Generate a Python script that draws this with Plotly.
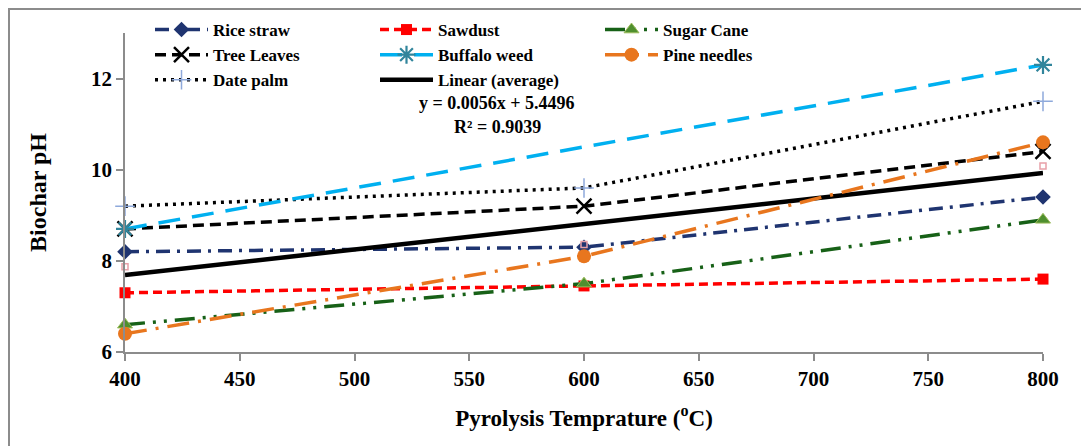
import plotly.graph_objects as go

temps = [400, 600, 800]
rice_straw = [8.2, 8.3, 9.4]
sawdust = [7.3, 7.45, 7.6]
sugar_cane = [6.6, 7.5, 8.9]
tree_leaves = [8.7, 9.2, 10.4]
buffalo_weed = [8.7, None, 12.3]
pine_needles = [6.4, 8.1, 10.6]
date_palm = [9.2, 9.6, 11.5]
average = [7.87, 8.36, 10.08]
trend_slope = 0.0056
trend_intercept = 5.4496
trend_x = [400, 800]
x_ticks = [400, 450, 500, 550, 600, 650, 700, 750, 800]
y_ticks = [6, 8, 10, 12]

FONT = "Liberation Serif"
fig = go.Figure()

def add(name, y, color, dash, symbol, msize, mcolor, legend, mline=None, width=3.5):
    fig.add_trace(go.Scatter(
        x=temps, y=y, name=name, mode="lines+markers", connectgaps=True, cliponaxis=False,
        line=dict(color=color, width=width, dash=dash),
        marker=dict(symbol=symbol, size=msize, color=mcolor,
                    line=mline or dict(width=0)),
        legend=legend))

add("Rice straw", rice_straw, "#1F3470", "14px,7px,3px,7px", "diamond", 12, "#1F3470", "legend")
add("Tree Leaves", tree_leaves, "#000000", "11px,6px", "x-thin-open", 15, "#000000", "legend",
    mline=dict(width=2.5, color="#000000"))
add("Date palm", date_palm, "#000000", "3px,5px", "cross-thin-open", 14, "#8EA9DB", "legend",
    mline=dict(width=1.5, color="#8EA9DB"))
add("Sawdust", sawdust, "#FF0000", "9px,5px", "square", 11, "#FF0000", "legend2")
add("Buffalo weed", buffalo_weed, "#00B0F0", "22px,12px", "asterisk-open", 15, "#31859C", "legend2",
    mline=dict(width=2.2, color="#31859C"))
fig.add_trace(go.Scatter(
    x=trend_x, y=[trend_slope * v + trend_intercept for v in trend_x],
    name="Linear (average)", mode="lines", line=dict(color="#000000", width=4.5),
    legend="legend2"))
add("Sugar Cane", sugar_cane, "#176117", "20px,8px,3px,8px,3px,8px", "triangle-up", 13, "#4F8F2F", "legend3",
    mline=dict(width=1, color="#9BBB59"))
add("Pine needles", pine_needles, "#E8761E", "22px,9px,3px,9px", "circle", 14, "#E8761E", "legend3")

fig.add_trace(go.Scatter(
    x=temps, y=average, mode="markers", showlegend=False, name="average", cliponaxis=False,
    marker=dict(symbol="square-open", size=6, color="#E8A0A8", line=dict(width=1.5))))

legend_common = dict(font=dict(family=FONT, size=17, color="#000000", weight="bold"),
                     bgcolor="rgba(0,0,0,0)", tracegroupgap=0, itemwidth=53,
                     yanchor="top", xanchor="left", orientation="v", traceorder="normal")

OFF = 8  # page body margin
W, H = 1089 - OFF, 446 - OFF
L, R, T, B = 125 - OFF, 46, 33 - OFF, 94
pw, ph = W - L - R, H - T - B

def px(xp):
    return (xp - OFF - L) / pw

def py(yp):
    return (H - B - (yp - OFF)) / ph

fig.update_layout(
    width=W, height=H, margin=dict(l=L, r=R, t=T, b=B, autoexpand=False),
    paper_bgcolor="white", plot_bgcolor="white",
    font=dict(family=FONT, size=17, color="#000000"),
    legend=dict(x=px(150), y=py(12), **legend_common),
    legend2=dict(x=px(375), y=py(12), **legend_common),
    legend3=dict(x=px(600), y=py(12), **legend_common),
    xaxis=dict(range=[400, 800], tickvals=x_ticks, showgrid=False, zeroline=False,
               automargin=False,
               showline=True, linecolor="#8C8C8C", linewidth=1.5, ticks="outside",
               tickcolor="#8C8C8C", ticklen=7, tickwidth=1.5,
               tickfont=dict(family=FONT, size=21, weight="bold"),
               title=dict(text="Pyrolysis Temprature (<sup>o</sup>C)",
                          font=dict(family=FONT, size=23, weight="bold"), standoff=20)),
    yaxis=dict(range=[6, 13], tickvals=y_ticks, showgrid=False, zeroline=False,
               automargin=False,
               showline=True, linecolor="#8C8C8C", linewidth=1.5, ticks="outside",
               tickcolor="#8C8C8C", ticklen=7, tickwidth=1.5,
               tickfont=dict(family=FONT, size=21, weight="bold"),
               title=dict(text="Biochar pH", font=dict(family=FONT, size=24, weight="bold"),
                          standoff=38)),
    annotations=[
        dict(text="y = 0.0056x + 5.4496", x=px(497), y=py(103), xref="paper", yref="paper",
             xanchor="center", yanchor="middle",
             showarrow=False, font=dict(family=FONT, size=18, weight="bold")),
        dict(text="R² = 0.9039", x=px(497), y=py(127), xref="paper", yref="paper",
             xanchor="center", yanchor="middle",
             showarrow=False, font=dict(family=FONT, size=18, weight="bold")),
    ],
    shapes=[dict(type="rect", xref="paper", yref="paper", x0=px(9), x1=px(1200),
                 y0=py(600), y1=py(9), line=dict(color="#8C8C8C", width=2), layer="below")],
)

fig.write_html("out.html")
